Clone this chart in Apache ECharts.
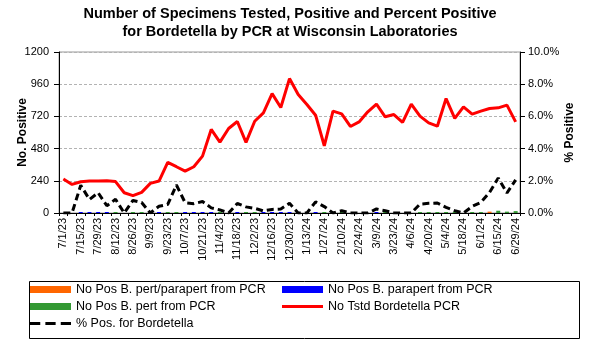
<!DOCTYPE html>
<html>
<head>
<meta charset="utf-8">
<script src="https://cdn.jsdelivr.net/npm/echarts@6/dist/echarts.min.js"></script>
<style>
  html, body { margin: 0; padding: 0; background: #fff; }
  #chart { width: 590px; height: 343px; }
</style>
</head>
<body>
<div id="chart"></div>
<script>
// Weekly reporting periods (week ending)
const weeks = [
  '7/1/23','7/8/23','7/15/23','7/22/23','7/29/23','8/5/23','8/12/23','8/19/23','8/26/23',
  '9/2/23','9/9/23','9/16/23','9/23/23','9/30/23','10/7/23','10/14/23','10/21/23','10/28/23',
  '11/4/23','11/11/23','11/18/23','11/25/23','12/2/23','12/9/23','12/16/23','12/23/23','12/30/23',
  '1/6/24','1/13/24','1/20/24','1/27/24','2/3/24','2/10/24','2/17/24','2/24/24',
  '3/2/24','3/9/24','3/16/24','3/23/24','3/30/24','4/6/24','4/13/24','4/20/24','4/27/24',
  '5/4/24','5/11/24','5/18/24','5/25/24','6/1/24','6/8/24','6/15/24','6/22/24','6/29/24'
];

// Specimens tested for Bordetella by PCR
const tested = [
  253, 213, 233, 238, 238, 240, 234, 151, 129, 154, 221, 238, 377, 345, 312, 345, 424, 623,
  528, 630, 682, 526, 684, 746, 890, 786, 1002, 883, 809, 729, 501, 759, 739, 645, 679,
  754, 811, 717, 734, 675, 811, 722, 672, 647, 853, 705, 791, 737, 759, 779, 784, 804, 679
];

// Positive counts by organism (null = none that week)
const posPertParapert = [
  null, null, null, null, null, null, null, null, null, null, null, null, null, null, null, null, null, null,
  null, null, null, null, null, null, null, null, null, null, null, null, null, null, null, null, null,
  null, null, null, null, null, null, null, null, null, null, null, null, null, null, 10, null, null, null
];
const posParapert = [
  null, null, 4, 2, 3, 1, null, null, null, null, null, 1, null, null, 2, 2, 3, 2,
  null, null, 4, null, null, 1, 2, 2, 6, null, null, 5, null, null, null, null, null,
  null, 2, null, null, null, null, null, null, null, null, null, null, null, null, null, null, null, null
];
const posPert = [
  null, null, null, null, null, null, 2, null, 1, 1, null, null, 2, 6, null, null, null, null,
  1, null, null, 2, 2, null, null, null, null, null, null, null, 2, null, 1, null, null,
  null, null, 1, null, null, null, 4, 4, 4, 3, 1, null, 3, 5, null, 17, 10, 14
];

// Percent of specimens positive for Bordetella
const pctPositive = [
  0.0, 0.0, 1.72, 0.84, 1.26, 0.45, 0.85, 0.0, 0.78, 0.65, 0.0, 0.42, 0.53, 1.74, 0.64, 0.58, 0.71, 0.32,
  0.19, 0.0, 0.59, 0.38, 0.29, 0.13, 0.22, 0.25, 0.6, 0.0, 0.0, 0.69, 0.4, 0.0, 0.14, 0.0, 0.0,
  0.0, 0.25, 0.14, 0.0, 0.0, 0.0, 0.55, 0.6, 0.62, 0.35, 0.14, 0.0, 0.41, 0.66, 1.28, 2.17, 1.24, 2.06
];

const FONT = 'Liberation Sans, Arial, sans-serif';
const chart = echarts.init(document.getElementById('chart'), null, { renderer: 'canvas' });

const barBase = { type: 'bar', stack: 'pos', barWidth: 4, barMinHeight: 1, yAxisIndex: 0 };

// Legend glyphs for the two line series: a solid stroke and a three-dash stroke
const solidIcon = 'path://M0,0 L40,0 L40,3 L0,3 Z';
const dashIcon = 'path://M0,0 L10,0 L10,3 L0,3 Z M15,0 L25,0 L25,3 L15,3 Z M30,0 L40,0 L40,3 L30,3 Z';

const legendText = { fontFamily: FONT, fontSize: 12.5, color: '#000', lineHeight: 13 };

chart.setOption({
  animation: false,
  backgroundColor: '#fff',
  title: {
    text: 'Number of Specimens Tested, Positive and Percent Positive\nfor Bordetella by PCR at Wisconsin Laboratories',
    left: 290,
    textAlign: 'center',
    top: 5,
    padding: 0,
    textStyle: { fontFamily: FONT, fontSize: 14.5, fontWeight: 'bold', color: '#000', lineHeight: 18 }
  },
  grid: { left: 59, right: 70, top: 52, bottom: 130, outerBoundsMode: 'none',
          show: true, borderColor: '#999', borderWidth: 1 },
  legend: [
    {
      orient: 'vertical', left: 30, top: 283, padding: 0, itemGap: 4, itemWidth: 41, itemHeight: 7,
      textStyle: legendText,
      data: [
        { name: 'No Pos B. pert/parapert from PCR', icon: 'rect' },
        { name: 'No Pos B. pert from PCR', icon: 'rect' },
        { name: '% Pos. for Bordetella', icon: dashIcon }
      ]
    },
    {
      orient: 'vertical', left: 282, top: 283, padding: 0, itemGap: 4, itemWidth: 41, itemHeight: 7,
      textStyle: legendText,
      data: [
        { name: 'No Pos B. parapert from PCR', icon: 'rect' },
        { name: 'No Tstd Bordetella PCR', icon: solidIcon }
      ]
    }
  ],
  graphic: [{
    type: 'rect', left: 27, top: 279, silent: true,
    shape: { width: 550, height: 57 },
    style: { fill: 'none', stroke: '#000', lineWidth: 1 }
  }],
  xAxis: {
    type: 'category',
    data: weeks,
    boundaryGap: true,
    axisLine: { lineStyle: { color: '#000', width: 1 } },
    axisTick: { show: true, interval: 0, length: 3, lineStyle: { color: '#000' } },
    axisLabel: { interval: 1, rotate: 90, margin: 5, fontFamily: FONT, fontSize: 11, color: '#000' }
  },
  yAxis: [
    {
      type: 'value', min: 0, max: 1200, interval: 240,
      name: 'No. Positive', nameLocation: 'middle', nameRotate: 90, nameGap: 30,
      nameMoveOverlap: false,
      nameTextStyle: { fontFamily: FONT, fontSize: 12, fontWeight: 'bold', color: '#000' },
      axisLine: { show: true, lineStyle: { color: '#000' } },
      axisTick: { show: true, length: 5, lineStyle: { color: '#000' } },
      axisLabel: { margin: 10, fontFamily: FONT, fontSize: 11, color: '#000',
                   formatter: v => String(v) },
      splitLine: { show: true, lineStyle: { color: '#b3b3b3', type: [3, 2], width: 1 } }
    },
    {
      type: 'value', min: 0, max: 10, interval: 2,
      name: '% Positive', nameLocation: 'middle', nameRotate: 90, nameGap: 44,
      nameMoveOverlap: false,
      nameTextStyle: { fontFamily: FONT, fontSize: 12, fontWeight: 'bold', color: '#000' },
      axisLine: { show: true, lineStyle: { color: '#000' } },
      axisTick: { show: true, length: 5, lineStyle: { color: '#000' } },
      axisLabel: { margin: 8, fontFamily: FONT, fontSize: 11, color: '#000',
                   formatter: v => v.toFixed(1) + '%' },
      splitLine: { show: false }
    }
  ],
  series: [
    Object.assign({ name: 'No Pos B. pert/parapert from PCR', data: posPertParapert,
                    itemStyle: { color: '#ff6600' } }, barBase),
    Object.assign({ name: 'No Pos B. parapert from PCR', data: posParapert,
                    itemStyle: { color: '#0000ff' } }, barBase),
    Object.assign({ name: 'No Pos B. pert from PCR', data: posPert,
                    itemStyle: { color: '#339933' } }, barBase),
    {
      name: 'No Tstd Bordetella PCR', type: 'line', yAxisIndex: 0, data: tested,
      symbol: 'none', lineStyle: { color: '#ff0000', width: 3 }, itemStyle: { color: '#ff0000' }, z: 3
    },
    {
      name: '% Pos. for Bordetella', type: 'line', yAxisIndex: 1, data: pctPositive,
      symbol: 'none', lineStyle: { color: '#000', width: 3, type: [7, 4] }, itemStyle: { color: '#000' }, z: 4
    }
  ]
});
</script>
</body>
</html>
